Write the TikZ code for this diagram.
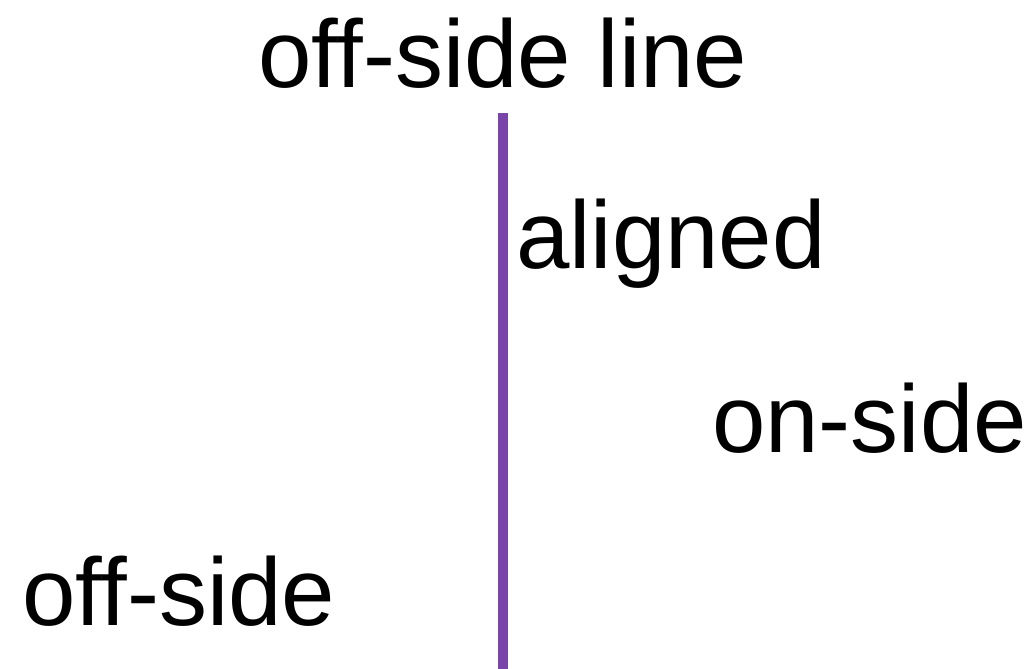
\documentclass[tikz,border=0pt]{standalone}
\usepackage{fontspec}
\setmainfont[Ligatures={NoCommon}]{Liberation Sans}
\usepackage{xcolor}
\usetikzlibrary{calc, positioning}
\definecolor{linepurple}{RGB}{122,69,168}
\tikzset{
    lbl/.style={anchor=base west, inner sep=0pt, font=\fontsize{96}{100}\selectfont},
    sideline/.style={draw=linepurple, line width=10pt}
}

\begin{document}
\begin{tikzpicture}[x=1pt, y=-1pt]
    \useasboundingbox (0,0) rectangle (1036,669);
    
    % Tiêu đề
    \node[lbl] (title) at (258,88) {off-side line};
    
    % Vạch việt vị
    \coordinate (top) at (503,113);
    \coordinate (bot) at (503,669);
    \draw[sideline] (top) -- (bot);
    
    % Các vị trí
    \node[lbl] (aligned) at (516,268) {aligned};
    \node[lbl] (onside) at (712,452) {on-side};
    \node[lbl] (offside) at (22,625) {off-side};
   
\end{tikzpicture}
\end{document}
